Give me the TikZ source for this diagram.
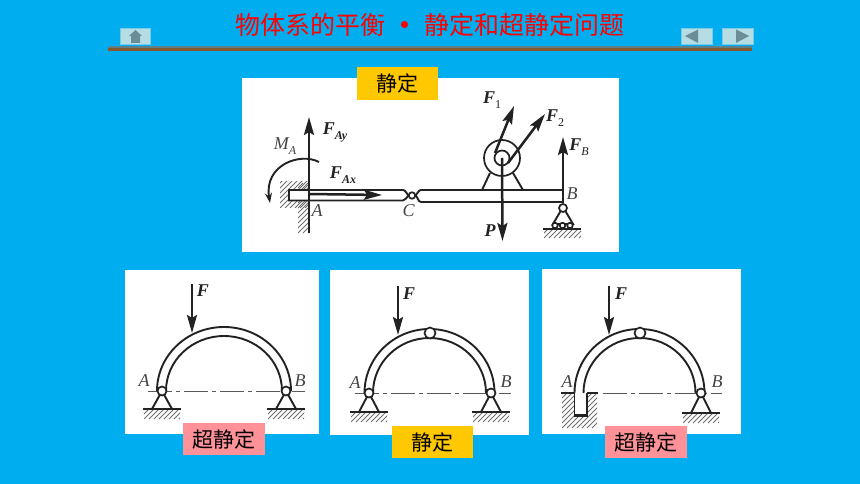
\documentclass[tikz,border=0pt]{standalone}
\usepackage{fontspec}
\setmainfont{Liberation Serif}
\newfontfamily\cjk{Noto Sans CJK SC}
\usetikzlibrary{arrows.meta}
\definecolor{bgblue}{HTML}{00AEEF}
\definecolor{tagpink}{HTML}{FF9199}
\definecolor{taggold}{HTML}{FFC800}
\definecolor{btnfill}{HTML}{B7DDE4}
\definecolor{btnline}{HTML}{7CCBE6}
\definecolor{btnicon}{HTML}{6B8D98}
\definecolor{inkblack}{HTML}{222222}
\newcommand{\subl}[1]{\raisebox{-5pt}{\fontsize{12}{12}\selectfont #1}}
\tikzset{
	panel/.style={fill=white, draw=none},
	tag/.style={minimum width=82pt, minimum height=32pt, inner sep=0pt, font=\fontsize{21}{21}\cjk, text=black},
	btn/.style={fill=btnfill, draw=btnline, line width=0.8pt},
	member/.style={draw=inkblack, line width=1.9pt},
	force/.style={draw=inkblack, line width=2.5pt, -{Stealth[length=18pt, width=10pt, inset=3pt]}},
	pin/.style={circle, draw=inkblack, fill=white, line width=1.7pt, inner sep=0pt},
	axisline/.style={draw=inkblack!75, line width=1pt, dash pattern=on 24pt off 4pt on 4pt off 4pt},
	hatchline/.style={draw=inkblack!65, line width=0.9pt},
	letter/.style={font=\fontsize{18}{18}\selectfont\itshape, text=inkblack!85},
	flabel/.style={font=\fontsize{18}{18}\selectfont\bfseries\itshape, text=inkblack}
}
% hatch field: x1, y1, x2, y2
\newcommand{\hatchfield}[4]{
	\begin{scope}
		\clip (#1, #2) rectangle (#3, #4);
		\foreach \i in {-60, -55, ..., 100}
			\draw[hatchline] ({#1 + \i}, #4) -- ++(50, -50);
	\end{scope}
}
% hinged support: name, x, y of the pin, y of the ground
\newcommand{\hingesupport}[4]{
	\draw[member] (#2, #3) -- ({#2 - 10}, #4) (#2, #3) -- ({#2 + 10}, #4);
	\hatchfield{#2 - 18}{#4}{#2 + 18}{#4 + 10}
	\draw[member, line width=2.6pt] ({#2 - 19}, #4) -- ({#2 + 19}, #4);
	\node[pin, minimum size=9pt] (#1) at (#2, #3) {};
}
% arch: centre x, y of the feet, outer and inner half width
\newcommand{\archbody}[4]{
	\draw[member] ({#1 - #3}, #2) arc[start angle=180, end angle=0, x radius=#3 pt, y radius=64pt];
	\draw[member] ({#1 - #4}, #2) arc[start angle=180, end angle=0, x radius=#4 pt, y radius=55pt];
}
\begin{document}
\begin{tikzpicture}[x = 1pt, y = -1pt]
	\useasboundingbox (0, 0) rectangle (860, 484);
	\fill[bgblue] (0, 0) rectangle (860, 484);

	% Header
	\node[text=red, font=\fontsize{25}{25}\cjk] (title) at (430, 25) {物体系的平衡\hspace{7pt}\textbf{•}\hspace{7pt}静定和超静定问题};
	\fill[black!10!btnicon] (108, 46) rectangle (752, 49);
	\fill[black!30!brown] (108, 48) rectangle (752, 51);
	\draw[btn] (120.5, 28.5) rectangle (150.5, 44);
	\draw[btn] (681.5, 28.5) rectangle (712, 44);
	\draw[btn] (722.5, 28.5) rectangle (753, 44);
	\fill[btnicon] (129, 36) -- (135.5, 30) -- (142, 36) -- (140, 36) -- (140, 43) -- (131, 43) -- (131, 36) -- cycle;
	\fill[btnicon] (685, 36) -- (698, 29.5) -- (698, 43) -- cycle;
	\fill[btnicon] (749, 36) -- (736, 29.5) -- (736, 43) -- cycle;

	% Panels
	\fill[panel] (242, 78) rectangle (619, 252);
	\fill[panel] (125, 270) rectangle (319, 434);
	\fill[panel] (330, 270) rectangle (529, 435);
	\fill[panel] (542, 269) rectangle (741, 434);

	% Tags
	\node[tag, fill=taggold, minimum width=81pt, minimum height=33pt] (tagtop) at (397.5, 83.5) {静定};
	\node[tag, fill=tagpink] (tagone) at (224, 439) {超静定};
	\node[tag, fill=taggold, minimum width=81pt] (tagtwo) at (432.5, 442) {静定};
	\node[tag, fill=tagpink] (tagthree) at (646, 442) {超静定};

	% Top beam
	\hatchfield{298}{160}{309}{233}
	\hatchfield{280}{182}{309}{208}
	\draw[member, fill=white] (403, 190) -- (289, 190) -- (289, 200.5) -- (403, 200.5) .. controls (406, 200.5) and (406, 197) .. (408.5, 195.5) .. controls (406, 194) and (406, 190) .. (403, 190);
	\draw[member] (562, 190) -- (421, 190) .. controls (418, 190) and (418, 194) .. (415.5, 195.5) .. controls (418, 197) and (418, 202) .. (421, 202) -- (562, 202);
	\node[pin, minimum size=6.5pt] (C) at (412, 195.5) {};

	% Pulley
	\draw[member] (490, 173) -- (482, 190) (513, 173) -- (523, 190);
	\node[pin, minimum size=36pt] (wheel) at (502, 158) {};
	\node[pin, minimum size=15pt] (hub) at (502, 158) {};

	% Right support
	\draw[member] (563, 207) -- (553, 224) -- (573, 224) -- cycle;
	\hatchfield{544}{229}{581}{238}
	\draw[member, line width=2.6pt] (543, 229) -- (581, 229);
	\node[pin, minimum size=8pt] (B) at (563, 208) {};
	\node[pin, minimum size=5.5pt] (rollerl) at (555, 225.5) {};
	\node[pin, minimum size=5.5pt] (rollerm) at (562.5, 225.5) {};
	\node[pin, minimum size=5.5pt] (rollerr) at (570, 225.5) {};

	% Top forces
	\coordinate (Aend) at (309, 233);
	\coordinate (Ay) at (309, 117);
	\coordinate (Ax) at (382, 195);
	\coordinate (corner) at (309, 194);
	\coordinate (F1s) at (495, 153);
	\coordinate (F1e) at (514, 106);
	\coordinate (F2s) at (508, 163);
	\coordinate (F2e) at (545, 114);
	\coordinate (Pe) at (502.5, 241);
	\coordinate (FB) at (563, 137);
	\draw[force] (Aend) -- (Ay);
	\draw[force] (corner) -- (Ax);
	\draw[force] (F1s) -- (F1e);
	\draw[force] (F2s) -- (F2e);
	\draw[force] (hub.center) -- (Pe);
	\draw[force] (B) -- (FB);
	\draw[draw=inkblack, line width=1.9pt, -{Stealth[length=10pt, width=7pt]}] (319, 162) .. controls (300, 152) and (264, 165) .. (270, 203);

	% Top labels
	\node[flabel] (lFAy) at (335, 132) {F\subl{Ay}};
	\node[flabel] (lFAx) at (343, 175) {F\subl{Ax}};
	\node[letter] (lMA) at (285, 146) {M\subl{A}};
	\node[letter] (lA) at (317, 211) {A};
	\node[letter] (lC) at (408.5, 211) {C};
	\node[letter] (lB) at (572, 194) {B};
	\node[flabel] (lF1) at (492, 100) {F\subl{\upshape\mdseries 1}};
	\node[flabel] (lF2) at (555, 118) {F\subl{\upshape\mdseries 2}};
	\node[flabel] (lFB) at (579, 147) {F\subl{\mdseries B}};
	\node[flabel] (lP) at (490, 231) {P};

	% Left arch
	\draw[axisline] (148, 391) -- (305, 391);
	\archbody{224}{391}{67}{58}
	\hingesupport{Aone}{162}{391}{409}
	\hingesupport{Bone}{286}{391}{409}
	\coordinate (Fones) at (192, 284);
	\coordinate (Fonee) at (192, 333);
	\draw[force] (Fones) -- (Fonee);
	\node[flabel] (lFone) at (203, 291) {F};
	\node[letter] (lAone) at (144, 381) {A};
	\node[letter] (lBone) at (300, 381) {B};

	% Middle arch
	\draw[axisline] (355, 393) -- (511, 393);
	\archbody{429.5}{393}{65}{56.5}
	\hingesupport{Atwo}{369}{393}{412}
	\hingesupport{Btwo}{491}{393}{412}
	\node[pin, minimum size=11pt] (Ctwo) at (430, 333) {};
	\coordinate (Ftwos) at (398, 286);
	\coordinate (Ftwoe) at (398, 335);
	\draw[force] (Ftwos) -- (Ftwoe);
	\node[flabel] (lFtwo) at (409, 294) {F};
	\node[letter] (lAtwo) at (355, 383) {A};
	\node[letter] (lBtwo) at (506, 382) {B};

	% Right arch
	\draw[axisline] (603, 393) -- (722, 393);
	\hatchfield{562}{393}{597}{428}
	\fill[white] (574, 393) rectangle (587, 415);
	\draw[member] (574.5, 393) -- (574.5, 415) -- (587, 415) -- (587, 393);
	\draw[member, line width=3pt] (574, 415.5) -- (587.5, 415.5);
	\draw[member, line width=2.6pt] (561, 393) -- (574.5, 393) (587, 393) -- (598, 393);
	\archbody{639.5}{393}{65}{56}
	\hingesupport{Bthree}{701}{393}{413}
	\node[pin, minimum size=11pt] (Cthree) at (640, 333) {};
	\coordinate (Fthrees) at (609, 286);
	\coordinate (Fthreee) at (609, 335);
	\draw[force] (Fthrees) -- (Fthreee);
	\node[flabel] (lFthree) at (621, 294) {F};
	\node[letter] (lAthree) at (567, 382) {A};
	\node[letter] (lBthree) at (717, 382) {B};
\end{tikzpicture}
\end{document}
